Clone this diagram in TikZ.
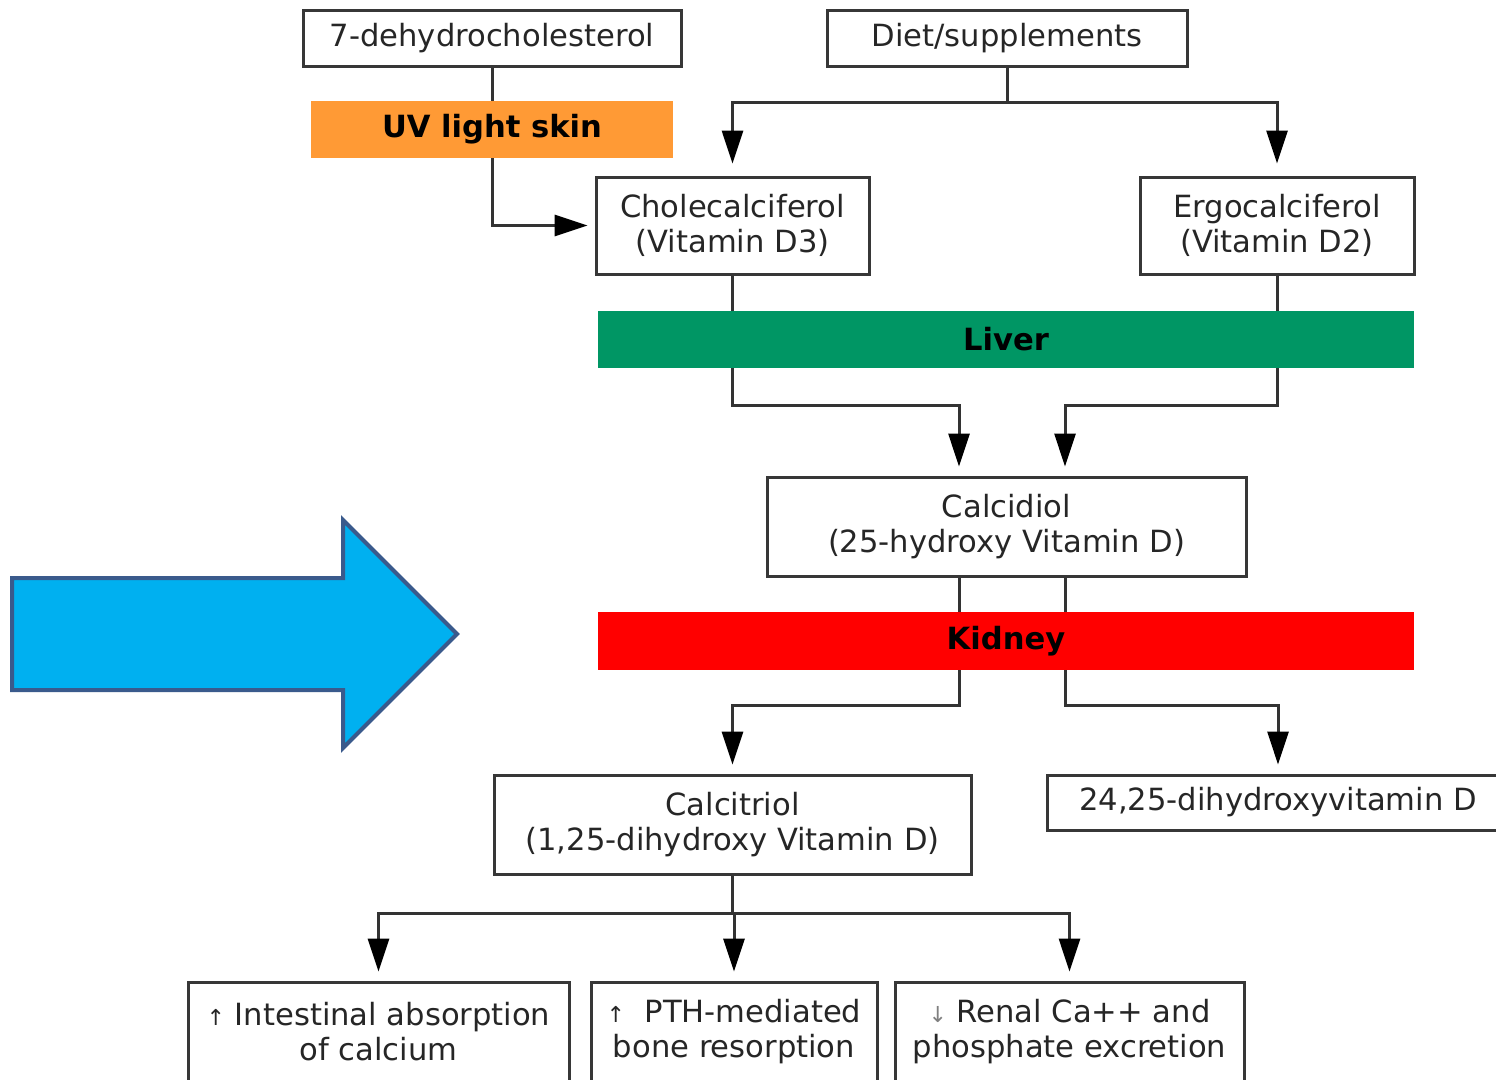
\documentclass[tikz,border=0pt]{standalone}
\usepackage{fontspec}
\setmainfont{DejaVu Sans}
\usetikzlibrary{arrows.meta,calc}
\definecolor{uvorange}{RGB}{255,154,53}
\definecolor{livergreen}{RGB}{0,150,100}
\definecolor{kidneyred}{RGB}{255,0,0}
\definecolor{bigblue}{RGB}{0,176,240}
\definecolor{bigblueedge}{RGB}{58,90,140}
\definecolor{boxedge}{RGB}{55,55,55}
\begin{document}
\begin{tikzpicture}[x=1pt,y=-1pt,
  box/.style={draw=boxedge,line width=3pt,fill=white,inner sep=0pt,align=center,
    font=\fontsize{30.6}{35}\selectfont,text=black!85},
  bar/.style={inner sep=0pt,font=\fontsize{30.6}{35}\selectfont\bfseries,text=black},
  conn/.style={draw=black!80,line width=3pt},
  arr/.style={conn,-{Triangle[length=33pt,width=21pt,fill=black,color=black]},shorten >=11pt}]
\useasboundingbox (0,0) rectangle (1496,1079);
\clip (0,0) rectangle (1496,1079);
\fill[white] (0,0) rectangle (1496,1079);

% nodes
\node[box,minimum width=378pt,minimum height=56pt] (dhc) at (492,38) {7-dehydrocholesterol};
\node[box,minimum width=360pt,minimum height=56pt] (diet) at (1007,38) {Diet/supplements};
\node[bar,fill=uvorange,minimum width=362pt,minimum height=57pt] (uv) at (492,129.5) {UV light skin};
\node[box,minimum width=273pt,minimum height=97pt] (chole) at (732.5,225.5) {Cholecalciferol\\(Vitamin D3)};
\node[box,minimum width=274pt,minimum height=97pt] (ergo) at (1277,225.5) {Ergocalciferol\\(Vitamin D2)};
\node[bar,fill=livergreen,minimum width=816pt,minimum height=57pt] (liver) at (1006,339.5) {Liver};
\node[box,minimum width=479pt,minimum height=99pt] (calcidiol) at (1006.5,526.5) {Calcidiol\\(25-hydroxy Vitamin D)};
\node[bar,fill=kidneyred,minimum width=816pt,minimum height=58pt] (kidney) at (1006,641) {Kidney};
\node[box,minimum width=477pt,minimum height=99pt] (calcitriol) at (732.5,824.5) {Calcitriol\\(1,25-dihydroxy Vitamin D)};
\node[box,minimum width=462pt,minimum height=55pt] (dihyd) at (1278,802.5) {24,25-dihydroxyvitamin D};
\node[box,minimum width=381pt,minimum height=99pt] (b1) at (378.5,1031.5) {{\fontsize{22}{22}\selectfont↑} Intestinal absorption\\of calcium};
\node[box,minimum width=286pt,minimum height=99pt] (b2) at (734,1031.5) {{\fontsize{22}{22}\selectfont↑}\ \ PTH-mediated\\bone resorption};
\node[box,minimum width=349pt,minimum height=99pt] (b3) at (1069.5,1031.5) {{\fontsize{22}{22}\selectfont\color{black!50}↓} Renal Ca++ and\\phosphate excretion};

% big blue arrow
\draw[fill=bigblue,draw=bigblueedge,line width=4pt,line join=miter]
  (12,578) -- (343,578) -- (343,520) -- (457,634) -- (343,748) -- (343,690) -- (12,690) -- cycle;

% helper coordinates
\coordinate (cl) at (959,0);
\coordinate (cr) at (1065,0);

% connectors
\draw[conn] (dhc.south) -- (uv.north);
\draw[arr,shorten >=7pt] (uv.south) |- (chole.west);
\draw[conn] (diet.south) -- ++(0,35) coordinate (dj);
\draw[arr,shorten >=12pt] (dj) -| (chole.north);
\draw[arr,shorten >=12pt] (dj) -| (ergo.north);
\draw[conn] (chole.south) -- (chole.south |- liver.north);
\draw[conn] (ergo.south) -- (ergo.south |- liver.north);
\draw[arr,shorten >=9pt] (chole.south |- liver.south) -- ++(0,37) -| (cl |- calcidiol.north);
\draw[arr,shorten >=9pt] (ergo.south |- liver.south) -- ++(0,37) -| (cr |- calcidiol.north);
\draw[conn] (cl |- calcidiol.south) -- (cl |- kidney.north);
\draw[conn] (cr |- calcidiol.south) -- (cr |- kidney.north);
\draw[arr,shorten >=9pt] (cl |- kidney.south) -- ++(0,35) -| (calcitriol.north);
\draw[arr,shorten >=9pt] (cr |- kidney.south) -- ++(0,35) -| (dihyd.north);
\draw[conn] (calcitriol.south) -- ++(0,38) coordinate (tj);
\draw[arr,shorten >=9pt] (tj) -| (b1.north);
\draw[arr,shorten >=9pt] (tj) -| (b2.north);
\draw[arr,shorten >=9pt] (tj) -| (b3.north);
\end{tikzpicture}
\end{document}
